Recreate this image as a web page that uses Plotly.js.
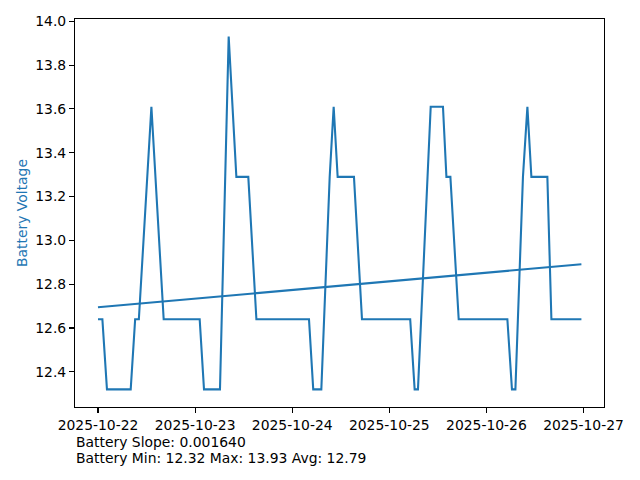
<!DOCTYPE html>
<html>
<head>
<meta charset="utf-8">
<script src="https://cdn.plot.ly/plotly-3.0.1.min.js"></script>
<style>html,body{margin:0;padding:0;background:#fff;}#chart{width:640px;height:480px;}</style>
</head>
<body>
<div id="chart"></div>
<script>
// Battery voltage readings
const times = [
  "2025-10-22 00:00","2025-10-22 01:05","2025-10-22 02:13","2025-10-22 08:05","2025-10-22 09:11",
  "2025-10-22 10:06","2025-10-22 13:12","2025-10-22 16:14","2025-10-23 01:08","2025-10-23 02:12",
  "2025-10-23 06:09","2025-10-23 08:18","2025-10-23 10:12","2025-10-23 13:09","2025-10-23 15:09",
  "2025-10-24 04:09","2025-10-24 05:12","2025-10-24 07:12","2025-10-24 09:16","2025-10-24 10:15",
  "2025-10-24 11:14","2025-10-24 15:16","2025-10-24 17:15","2025-10-25 05:10","2025-10-25 06:16",
  "2025-10-25 07:05","2025-10-25 10:14","2025-10-25 13:16","2025-10-25 14:07","2025-10-25 15:06",
  "2025-10-25 17:09","2025-10-26 05:11","2025-10-26 06:19","2025-10-26 07:10","2025-10-26 09:02",
  "2025-10-26 10:08","2025-10-26 11:07","2025-10-26 15:04","2025-10-26 16:04","2025-10-26 23:29"
];
const voltage = [
  12.64,12.64,12.32,12.32,12.64,
  12.64,13.61,12.64,12.64,12.32,
  12.32,13.93,13.29,13.29,12.64,
  12.64,12.32,12.32,13.29,13.61,
  13.29,13.29,12.64,12.64,12.32,
  12.32,13.61,13.61,13.29,13.29,
  12.64,12.64,12.32,12.32,13.29,
  13.61,13.29,13.29,12.64,12.64
];
// Linear trend endpoints (slope 0.001640 V/h)
const trendTimes = ["2025-10-22 00:00","2025-10-26 23:29"];
const trendValues = [12.695, 12.891];

const yTickVals = [12.4,12.6,12.8,13.0,13.2,13.4,13.6,13.8,14.0];
const infoLines = ["Battery Slope: 0.001640","Battery Min: 12.32 Max: 13.93 Avg: 12.79"];

const font = {family:"DejaVu Sans", size:13.9, color:"#000"};
const blue = "#1f77b4";

const traces = [
  {x:times, y:voltage, type:"scatter", mode:"lines", line:{color:blue, width:2.08}, hoverinfo:"skip"},
  {x:trendTimes, y:trendValues, type:"scatter", mode:"lines", line:{color:blue, width:2.08}, hoverinfo:"skip"}
];

const layout = {
  width:640, height:480,
  margin:{l:75, r:36, t:19, b:73, pad:0},
  paper_bgcolor:"#fff", plot_bgcolor:"#fff",
  showlegend:false,
  font:font,
  xaxis:{
    type:"date",
    range:["2025-10-21 18:19","2025-10-27 05:04"],
    tick0:"2025-10-22", dtick:86400000, tickformat:"%Y-%m-%d",
    showgrid:false, zeroline:false,
    showline:true, mirror:true, linecolor:"#000", linewidth:1.1,
    ticks:"outside", ticklen:4.9, tickwidth:1.1, tickcolor:"#000",
    tickfont:font
  },
  yaxis:{
    range:[12.2395, 14.0105],
    tickvals:yTickVals, ticktext:yTickVals.map(v=>v.toFixed(1)),
    showgrid:false, zeroline:false,
    showline:true, mirror:true, linecolor:"#000", linewidth:1.1,
    ticks:"outside", ticklen:4.9, tickwidth:1.1, tickcolor:"#000",
    tickfont:font,
    title:{text:"Battery Voltage", font:{family:"DejaVu Sans", size:13.9, color:blue}, standoff:4}
  },
  annotations: infoLines.map((t,i)=>({
    text:t, xref:"paper", yref:"paper", x:0, y:0,
    xanchor:"left", yanchor:"middle", xshift:-1, yshift:-35 - 16*i,
    showarrow:false, align:"left", font:font
  }))
};

Plotly.newPlot("chart", traces, layout, {displayModeBar:false, staticPlot:true});
</script>
</body>
</html>
